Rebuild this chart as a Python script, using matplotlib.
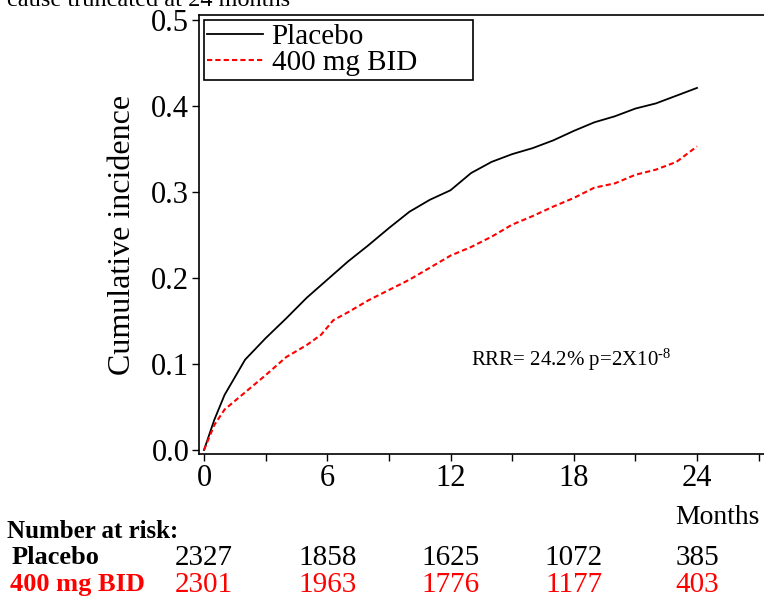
import matplotlib
matplotlib.use("Agg")
import matplotlib.pyplot as plt

# Kumulative Inzidenz
months = [0, 0.5, 1, 2, 3, 4, 5, 6, 7, 8, 9, 10, 11, 12,
          13, 14, 15, 16, 17, 18, 19, 20, 21, 22, 23, 24]
placebo = [0.0, 0.035, 0.064, 0.105, 0.130, 0.153, 0.177, 0.198, 0.219,
           0.238, 0.258, 0.277, 0.291, 0.302, 0.322, 0.335, 0.344, 0.351,
           0.360, 0.371, 0.381, 0.388, 0.397, 0.403, 0.412, 0.421]

months_bid = [0, 0.5, 1, 2, 3, 4, 5, 5.7, 6.3, 7, 8, 9, 10, 11, 12,
              13, 14, 15, 16, 17, 18, 19, 20, 21, 22, 23, 24]
bid = [0.0, 0.029, 0.047, 0.067, 0.087, 0.108, 0.122, 0.134, 0.151, 0.160,
       0.174, 0.186, 0.198, 0.212, 0.226, 0.236, 0.248, 0.262, 0.272, 0.283,
       0.293, 0.305, 0.310, 0.320, 0.326, 0.335, 0.353]

risk_months = [0, 6, 12, 18, 24]
risk_placebo = ['2327', '1858', '1625', '1072', '385']
risk_bid = ['2301', '1963', '1776', '1177', '403']

plt.rcParams['font.family'] = ['Liberation Serif', 'DejaVu Serif']
plt.rcParams['mathtext.fontset'] = 'custom'
plt.rcParams['mathtext.rm'] = 'Liberation Serif'
plt.rcParams['mathtext.it'] = 'Liberation Serif:italic'
plt.rcParams['mathtext.bf'] = 'Liberation Serif:bold'

fig = plt.figure(figsize=(7.64, 5.97), dpi=100)
ax = fig.add_axes([0.2605, 0.2395, 0.7395, 0.7354])

ax.plot(months, placebo, color='black', linewidth=1.3, label='Placebo')
ax.plot(months_bid, bid, color='red', linewidth=1.5, linestyle=(0, (2.5, 1.5)),
        label='400 mg BID')

ax.set_xlim(-0.243, 27.26)
ax.set_ylim(-0.0047, 0.5058)
ax.set_xticks([0, 6, 12, 18, 24])
ax.set_xticks([3, 9, 15, 21, 27], minor=True)
ax.set_yticks([0.0, 0.1, 0.2, 0.3, 0.4, 0.5])
ax.set_yticklabels(['0.0', '0.1', '0.2', '0.3', '0.4', '0.5'])
ax.tick_params(axis='both', which='major', labelsize=22, direction='out',
               length=5, width=1, pad=2)
ax.tick_params(axis='x', which='minor', direction='out', length=5, width=1)
ax.spines['right'].set_visible(False)
for s in ['left', 'top', 'bottom']:
    ax.spines[s].set_linewidth(1.2)

ax.set_ylabel('Cumulative incidence', fontsize=23, labelpad=10)

leg = ax.legend(loc='upper left', fontsize=21, frameon=True, fancybox=False,
                edgecolor='black', framealpha=1, borderpad=0.12,
                labelspacing=0.0, handlelength=1.9, handletextpad=0.3,
                bbox_to_anchor=(0.0088, 0, 0.476, 0.9886), mode='expand',
                borderaxespad=0)
leg.get_frame().set_linewidth(1.2)

ax.text(0.482, 0.215, 'RRR= 24.2% p=2X10$^{\\text{-8}}$',
        transform=ax.transAxes, fontsize=15, va='center')

# Titelrest oben links
fig.text(7 / 764, 1.0, 'cause truncated at 24 months', fontsize=17.5,
         ha='left', va='center')

# Number at risk
fig.text(760 / 764, 1 - 517 / 597, 'Months', fontsize=20, ha='right',
         va='center')
fig.text(7 / 764, 1 - 532 / 597, 'Number at risk:', fontsize=18,
         fontweight='bold', ha='left', va='center')
fig.text(12 / 764, 1 - 558 / 597, 'Placebo', fontsize=19, fontweight='bold',
         ha='left', va='center')
fig.text(10 / 764, 1 - 584 / 597, '400 mg BID', fontsize=19,
         fontweight='bold', color='red', ha='left', va='center')

for m, p, b in zip(risk_months, risk_placebo, risk_bid):
    xf = ax.transData.transform((m, 0))[0] / fig.bbox.width
    fig.text(xf, 1 - 558 / 597, p, fontsize=21, ha='center', va='center')
    fig.text(xf, 1 - 585 / 597, b, fontsize=21, ha='center', va='center',
             color='red')

fig.savefig('out.png', dpi=100)
